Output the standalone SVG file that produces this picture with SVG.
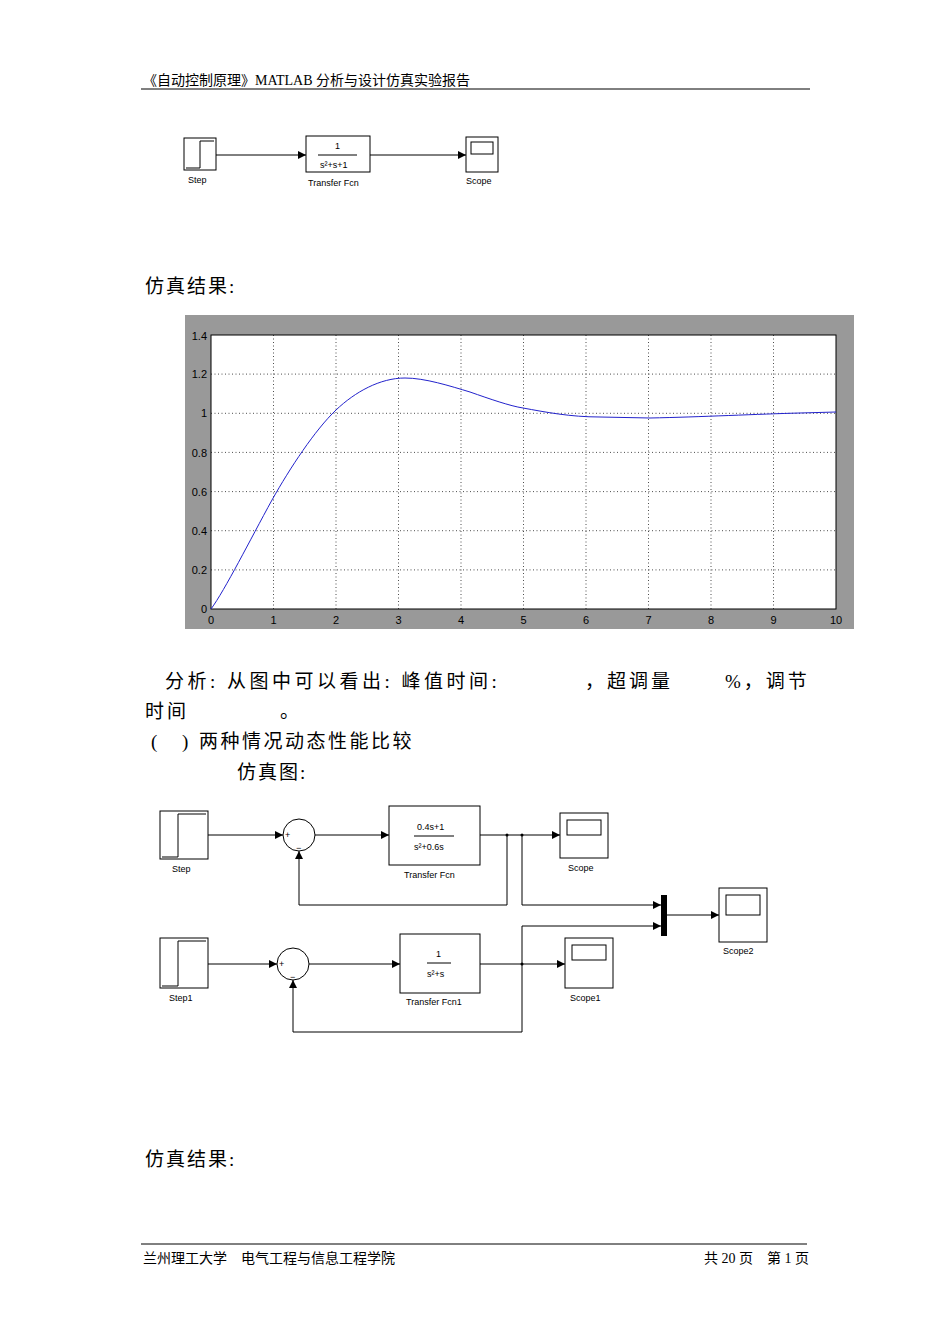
<svg xmlns="http://www.w3.org/2000/svg" width="950" height="1344" viewBox="0 0 950 1344">
<style>
.t{font-family:"Liberation Serif","Noto Sans CJK SC",serif;fill:#000}
.s{font-family:"Liberation Sans",Arial,sans-serif;font-size:9px;fill:#000}
.b{fill:#fff;stroke:#000;stroke-width:1}
.w{fill:none;stroke:#000;stroke-width:1}
.g{stroke:#000;stroke-width:0.7;stroke-dasharray:1,2.5}
.ax{font-family:"Liberation Sans",Arial,sans-serif;font-size:11px;fill:#000}
</style>
<defs><marker id="a" markerWidth="8" markerHeight="8" refX="8" refY="4" orient="auto" markerUnits="userSpaceOnUse"><path d="M0,0L8,4L0,8Z"/></marker></defs>
<rect width="950" height="1344" fill="#fff"/>
<text class="t" x="143" y="85" font-size="14">《自动控制原理》MATLAB 分析与设计仿真实验报告</text>
<line x1="141" y1="89" x2="810" y2="89" stroke="#000"/>
<g id="d1">
<g id="step0"><rect class="b" x="184" y="138" width="32" height="32"/><path class="w" d="M186,168H200V141H214"/><text class="s" x="188" y="183">Step</text></g>
<g id="tf0"><rect class="b" x="306" y="136" width="64" height="36"/><text class="s" x="335" y="149">1</text><line x1="318" y1="155" x2="357" y2="155" stroke="#000"/><text class="s" x="320" y="168">s²+s+1</text><text class="s" x="308" y="186">Transfer Fcn</text></g>
<g id="sc0"><rect class="b" x="466" y="137" width="32" height="35"/><rect class="b" x="471" y="142" width="22" height="12"/><text class="s" x="466" y="184">Scope</text></g>
<g id="c0"><path class="w" d="M216,155H306" marker-end="url(#a)"/><path class="w" d="M370,155H466" marker-end="url(#a)"/></g>
</g>
<text class="t" x="145" y="293" font-size="19" letter-spacing="2">仿真结果:</text>
<g id="plot">
<rect x="185" y="315" width="669" height="314" fill="#999"/>
<rect x="211" y="335" width="625" height="274" fill="#fff" stroke="#000"/>
<g class="g"><path d="M273.5,335V609M336,335V609M398.5,335V609M461,335V609M523.5,335V609M586,335V609M648.5,335V609M711,335V609M773.5,335V609M211,569.9H836M211,530.7H836M211,491.6H836M211,452.4H836M211,413.3H836M211,374.1H836"/></g>
<path d="M211,609C225,590 250,540 272,500C290,468 315,430 336,410C355,392 380,378 405,378C425,378 450,386 470,392C490,399 510,406 523,408C545,412 570,417 600,417L650,418C700,417 760,414 800,413L836,412" fill="none" stroke="#22c" stroke-width="1"/>
<g class="ax" text-anchor="end"><text x="207" y="340">1.4</text><text x="207" y="378">1.2</text><text x="207" y="417">1</text><text x="207" y="457">0.8</text><text x="207" y="496">0.6</text><text x="207" y="535">0.4</text><text x="207" y="574">0.2</text><text x="207" y="613">0</text></g>
<g class="ax" text-anchor="middle"><text x="211" y="624">0</text><text x="273.5" y="624">1</text><text x="336" y="624">2</text><text x="398.5" y="624">3</text><text x="461" y="624">4</text><text x="523.5" y="624">5</text><text x="586" y="624">6</text><text x="648.5" y="624">7</text><text x="711" y="624">8</text><text x="773.5" y="624">9</text><text x="836" y="624">10</text></g>
</g>
<text class="t" x="165" y="688" font-size="19" letter-spacing="3.5">分析: 从图中可以看出: 峰值时间:</text>
<text class="t" x="585" y="688" font-size="19" letter-spacing="3">，超调量</text>
<text class="t" x="725" y="688" font-size="19" letter-spacing="3">%，调节</text>
<text class="t" x="145" y="718" font-size="19" letter-spacing="3">时间</text>
<text class="t" x="280" y="718" font-size="19">。</text>
<text class="t" x="151" y="748" font-size="19">(</text>
<text class="t" x="182" y="748" font-size="19">)</text>
<text class="t" x="199" y="748" font-size="19" letter-spacing="2.5">两种情况动态性能比较</text>
<text class="t" x="237" y="779" font-size="19" letter-spacing="2">仿真图:</text>
<g id="d2">
<g id="step"><rect class="b" x="160" y="811" width="48" height="48"/><path class="w" d="M162,857H178V814H206"/><text class="s" x="172" y="872">Step</text></g>
<g id="sum"><circle class="b" cx="299" cy="835" r="16"/><text class="s" x="285" y="838">+</text><text class="s" x="296" y="851">−</text></g>
<g id="tf"><rect class="b" x="389" y="806" width="91" height="59"/><text class="s" x="417" y="830">0.4s+1</text><line x1="414" y1="836" x2="454" y2="836" stroke="#000"/><text class="s" x="414" y="850">s²+0.6s</text><text class="s" x="404" y="878">Transfer Fcn</text></g>
<g id="scope"><rect class="b" x="560" y="813" width="48" height="45"/><rect class="b" x="567" y="820" width="34" height="15"/><text class="s" x="568" y="871">Scope</text></g>
<g id="step1"><rect class="b" x="160" y="938" width="48" height="50"/><path class="w" d="M162,986H178V941H206"/><text class="s" x="169" y="1001">Step1</text></g>
<g id="sum1"><circle class="b" cx="293" cy="964" r="16"/><text class="s" x="279" y="967">+</text><text class="s" x="290" y="980">−</text></g>
<g id="tf1"><rect class="b" x="400" y="934" width="80" height="59"/><text class="s" x="436" y="957">1</text><line x1="427" y1="963" x2="451" y2="963" stroke="#000"/><text class="s" x="427" y="977">s²+s</text><text class="s" x="406" y="1005">Transfer Fcn1</text></g>
<g id="scope1"><rect class="b" x="565" y="938" width="48" height="50"/><rect class="b" x="572" y="945" width="34" height="15"/><text class="s" x="570" y="1001">Scope1</text></g>
<g id="mux"><rect x="661" y="895" width="6" height="41" fill="#000"/></g>
<g id="scope2"><rect class="b" x="719" y="888" width="48" height="54"/><rect class="b" x="726" y="895" width="34" height="20"/><text class="s" x="723" y="954">Scope2</text></g>
<g id="conn">
<path class="w" d="M208,835H283" marker-end="url(#a)"/>
<path class="w" d="M315,835H389" marker-end="url(#a)"/>
<path class="w" d="M480,835H560" marker-end="url(#a)"/>
<path class="w" d="M507,835V905H299V851" marker-end="url(#a)"/>
<path class="w" d="M522,835V905H661" marker-end="url(#a)"/>
<path class="w" d="M667,915H719" marker-end="url(#a)"/>
<path class="w" d="M208,964H277" marker-end="url(#a)"/>
<path class="w" d="M309,964H400" marker-end="url(#a)"/>
<path class="w" d="M480,964H565" marker-end="url(#a)"/>
<path class="w" d="M522,964V1032H293V980" marker-end="url(#a)"/>
<path class="w" d="M522,964V926H661" marker-end="url(#a)"/>
<circle cx="507" cy="835" r="1.5"/><circle cx="522" cy="835" r="1.5"/><circle cx="522" cy="964" r="1.5"/>
</g>
</g>
<text class="t" x="145" y="1166" font-size="19" letter-spacing="2">仿真结果:</text>
<line x1="141" y1="1244" x2="807" y2="1244" stroke="#000"/>
<text class="t" x="143" y="1263" font-size="14">兰州理工大学　电气工程与信息工程学院</text>
<text class="t" x="704" y="1263" font-size="14">共 20 页　第 1 页</text>
</svg>
